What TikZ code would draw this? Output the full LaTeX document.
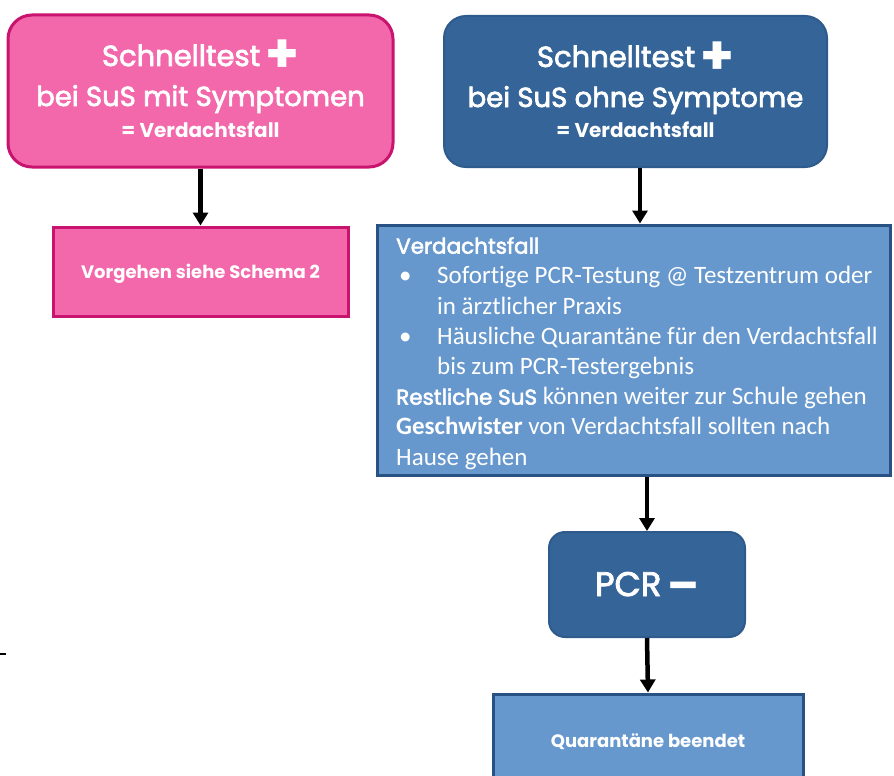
\documentclass[tikz,border=0pt]{standalone}
\usepackage{fontspec}
\setmainfont{Carlito}[Ligatures=NoCommon]
\newfontfamily\hd[FakeBold=2.5]{Poppins}
\newfontfamily\hdb{Poppins}
\usetikzlibrary{arrows.meta,calc}
\definecolor{pinkfill}{RGB}{242,104,170}
\definecolor{pinkline}{RGB}{200,20,110}
\definecolor{darkblue}{RGB}{52,100,152}
\definecolor{darkblueline}{RGB}{46,90,140}
\definecolor{lightblue}{RGB}{103,152,205}
\definecolor{lightblueline}{RGB}{40,82,132}
\tikzset{
  pinkround/.style={draw=pinkline, fill=pinkfill, line width=3pt, rounded corners=24pt},
  pinkrect/.style={draw=pinkline, fill=pinkfill, line width=3pt},
  blueround/.style={draw=darkblueline, fill=darkblue, line width=2pt, rounded corners=22pt},
  lightrect/.style={draw=lightblueline, fill=lightblue, line width=3pt},
  wtext/.style={text=white, inner sep=0pt, anchor=base},
  arr/.style={line width=4.5pt, -{Triangle[width=15pt,length=13pt]}},
}
\newcommand{\bigplus}{{\hdb\bfseries\fontsize{54}{40}\selectfont\raisebox{-7pt}{+}}}
\begin{document}
\begin{tikzpicture}[x=1pt,y=-1pt]
\useasboundingbox[fill=white] (0,0) rectangle (894,776);
% boxes
\node[pinkround, minimum width=385pt, minimum height=152pt] (pinkbox) at (200.5,91) {};
\node[blueround, minimum width=383pt, minimum height=151pt] (bluebox) at (635.5,91.5) {};
\node[pinkrect, minimum width=295pt, minimum height=89pt] (schema) at (200.5,271.5) {};
\node[lightrect, minimum width=513pt, minimum height=250pt] (vf) at (633.5,350) {};
\node[blueround, rounded corners=16pt, minimum width=196pt, minimum height=105pt] (pcr) at (647,584.5) {};
\node[lightrect, minimum width=310pt, minimum height=96pt] (quar) at (648,742) {};
% texts
\node[wtext] (t1a) at (200.5,66) {\hd\fontsize{29}{30}\selectfont Schnelltest\,\bigplus};
\node[wtext] (t1b) at (200.5,106) {\hd\fontsize{27.5}{30}\selectfont bei SuS mit Symptomen};
\node[wtext] (t1c) at (200.5,137) {\hdb\bfseries\fontsize{20}{22}\selectfont = Verdachtsfall};
\node[wtext] (t2a) at (635.5,67) {\hd\fontsize{29}{30}\selectfont Schnelltest\,\bigplus};
\node[wtext] (t2b) at (635.5,107) {\hd\fontsize{27.5}{30}\selectfont bei SuS ohne Symptome};
\node[wtext] (t2c) at (635.5,137) {\hdb\bfseries\fontsize{20}{22}\selectfont = Verdachtsfall};
\node[wtext] (t3) at (200.5,278) {\hdb\bfseries\fontsize{18}{20}\selectfont Vorgehen siehe Schema 2};
\node[text=white, anchor=north west, align=left, inner sep=0pt, font=\fontsize{25}{30.2}\selectfont] (vftext) at (396,237)
 {{\hd\fontsize{21.5}{24}\selectfont Verdachtsfall}\\
  \hspace*{3pt}\makebox[38pt][l]{•}Sofortige PCR-Testung @ Testzentrum oder\\
  \hspace*{41pt}in ärztlicher Praxis\\
  \hspace*{3pt}\makebox[38pt][l]{•}Häusliche Quarantäne für den Verdachtsfall\\
  \hspace*{41pt}bis zum PCR-Testergebnis\\
  {\hd\fontsize{21.5}{24}\selectfont Restliche SuS} können weiter zur Schule gehen\\
  \textbf{Geschwister} von Verdachtsfall sollten nach\\
  Hause gehen};
\node[wtext] (t4) at (647,596) {\hd\fontsize{34}{36}\selectfont PCR\,{\hdb\bfseries\fontsize{46}{40}\selectfont\raisebox{-5pt}{–}}};
\node[wtext] (t5) at (648,747) {\hdb\bfseries\fontsize{18}{20}\selectfont Quarantäne beendet};
% arrows
\draw[arr] (pinkbox.south) -- (schema.north);
\coordinate (a2) at ($(bluebox.south)+(4.5,0)$);
\draw[arr] (a2) -- (a2 |- vf.north);
\draw[arr] (vf.south -| pcr.north) -- (pcr.north);
\draw[arr] (pcr.south) -- (quar.north);
% stray mark at left edge
\coordinate (m1) at (0,654);
\coordinate (m2) at (6,654);
\draw[line width=2pt] (m1) -- (m2);
\end{tikzpicture}
\end{document}
